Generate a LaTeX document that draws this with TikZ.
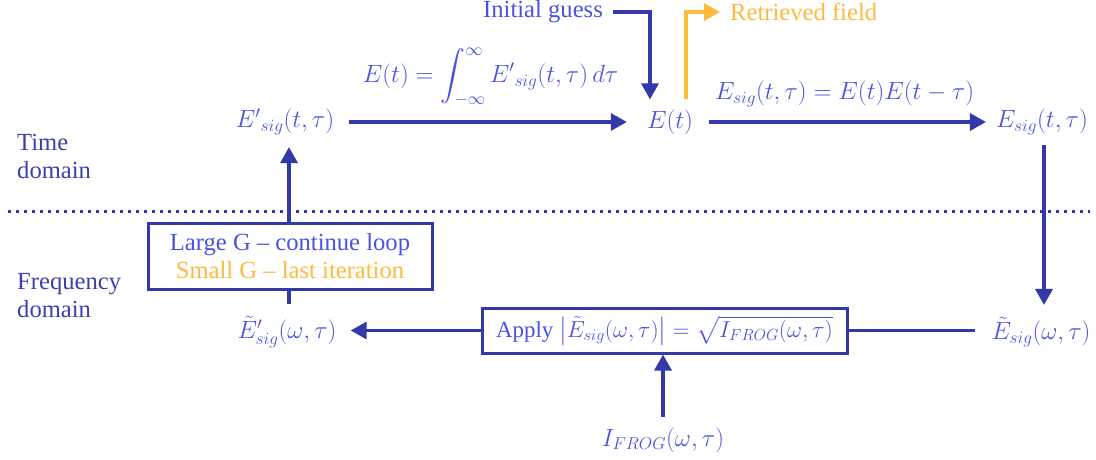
\documentclass[tikz,border=0pt]{standalone}
\usepackage{amsmath}
\usepackage{graphicx}
\usepackage{fontspec}
\setmainfont{Liberation Serif}[Scale=1.07]
\usetikzlibrary{arrows.meta}
\definecolor{lblue}{RGB}{72,84,224}
\definecolor{dblue}{RGB}{51,57,168}
\definecolor{tblue}{RGB}{58,66,170}
\definecolor{gold}{RGB}{255,185,60}
\tikzset{
  lbl/.style={text=lblue, inner sep=0pt, font=\fontsize{23}{28}\selectfont},
  side/.style={text=tblue, inner sep=0pt, align=left, anchor=west, font=\fontsize{23}{28}\selectfont},
  conn/.style={draw=dblue, line width=3.2pt},
  arr/.style={conn, -{Triangle[length=16pt,width=17pt]}},
  oarr/.style={draw=gold, line width=3.2pt, -{Triangle[length=16pt,width=17pt]}},
  boxx/.style={draw=dblue, line width=3pt, fill=white, inner sep=0pt, align=center, text=lblue, font=\fontsize{23}{28}\selectfont},
}
\begin{document}
\begin{tikzpicture}[x=1pt,y=-1pt]
\useasboundingbox (0,0) rectangle (1096,459);
% side labels
\node[side] (td) at (17,156) {Time\\domain};
\node[side] (fd) at (17,296) {Frequency\\domain};
% separator
\draw[dblue, line width=3pt, dash pattern=on 3pt off 5pt] (8,211) -- (1090,211);
% nodes
\node[lbl] (Eps) at (285,122) {${E'}_{sig}(t,\tau)$};
\node[lbl] (Et) at (670,122) {$E(t)$};
\node[lbl] (Es) at (1042,122) {$E_{sig}(t,\tau)$};
\node[lbl] (Ews) at (1041,332) {$\tilde E_{sig}(\omega,\tau)$};
\node[lbl] (Ewps) at (287,332) {${\tilde E'}_{sig}(\omega,\tau)$};
\node[lbl] (If) at (663,440) {$I_{FROG}(\omega,\tau)$};
\node[lbl] (ig) at (543,12) {Initial guess};
\node[lbl, text=gold, anchor=west] (rf) at (730,12) {Retrieved field};
\node[boxx, minimum width=365pt, minimum height=45pt] (apply) at (664.5,330.5)
  {\scalebox{0.93}{Apply $\left|\tilde E_{sig}(\omega,\tau)\right| = \sqrt{I_{FROG}(\omega,\tau)}$}};
\node[boxx, minimum width=284pt, minimum height=66pt] (G) at (290,256)
  {Large G -- continue loop\\\textcolor{gold}{Small G -- last iteration}};
% connectors
\draw[arr, shorten <=15pt, shorten >=20pt] (Eps.east) -- (Et.west)
  node[lbl, midway, above=14pt] (l1) {$E(t) = \displaystyle\int_{-\infty}^{\infty} {E'}_{sig}(t,\tau)\,d\tau$};
\draw[arr, shorten <=16pt, shorten >=10pt] (Et.east) -- (Es.west)
  node[lbl, midway, above=14pt] (l2) {$E_{sig}(t,\tau) = E(t)E(t-\tau)$};
\draw[arr] ([xshift=10pt]ig.east) -| ([xshift=-20pt, yshift=10pt]Et.north);
\draw[oarr] ([xshift=16pt, yshift=10pt]Et.north) |- ([xshift=-10pt]rf.west);
\draw[arr, shorten <=10pt, shorten >=12pt] ([xshift=2pt]Es.south) -- ([xshift=2pt]Es.south |- Ews.north);
\draw[conn] (apply.east) -- ([xshift=-16pt]apply.east -| Ews.west);
\draw[arr, shorten >=14pt] (apply.west) -- (apply.west -| Ewps.east);
\draw[arr, shorten <=10pt] (If.north) -- (If.north |- apply.south);
\draw[conn, shorten <=12pt] ([xshift=2pt]Ewps.north) -- ([xshift=2pt]Ewps.north |- G.south);
\draw[arr, shorten >=12pt] ([xshift=-1pt]G.north) -- ([xshift=-1pt]G.north |- Eps.south);
\end{tikzpicture}
\end{document}
